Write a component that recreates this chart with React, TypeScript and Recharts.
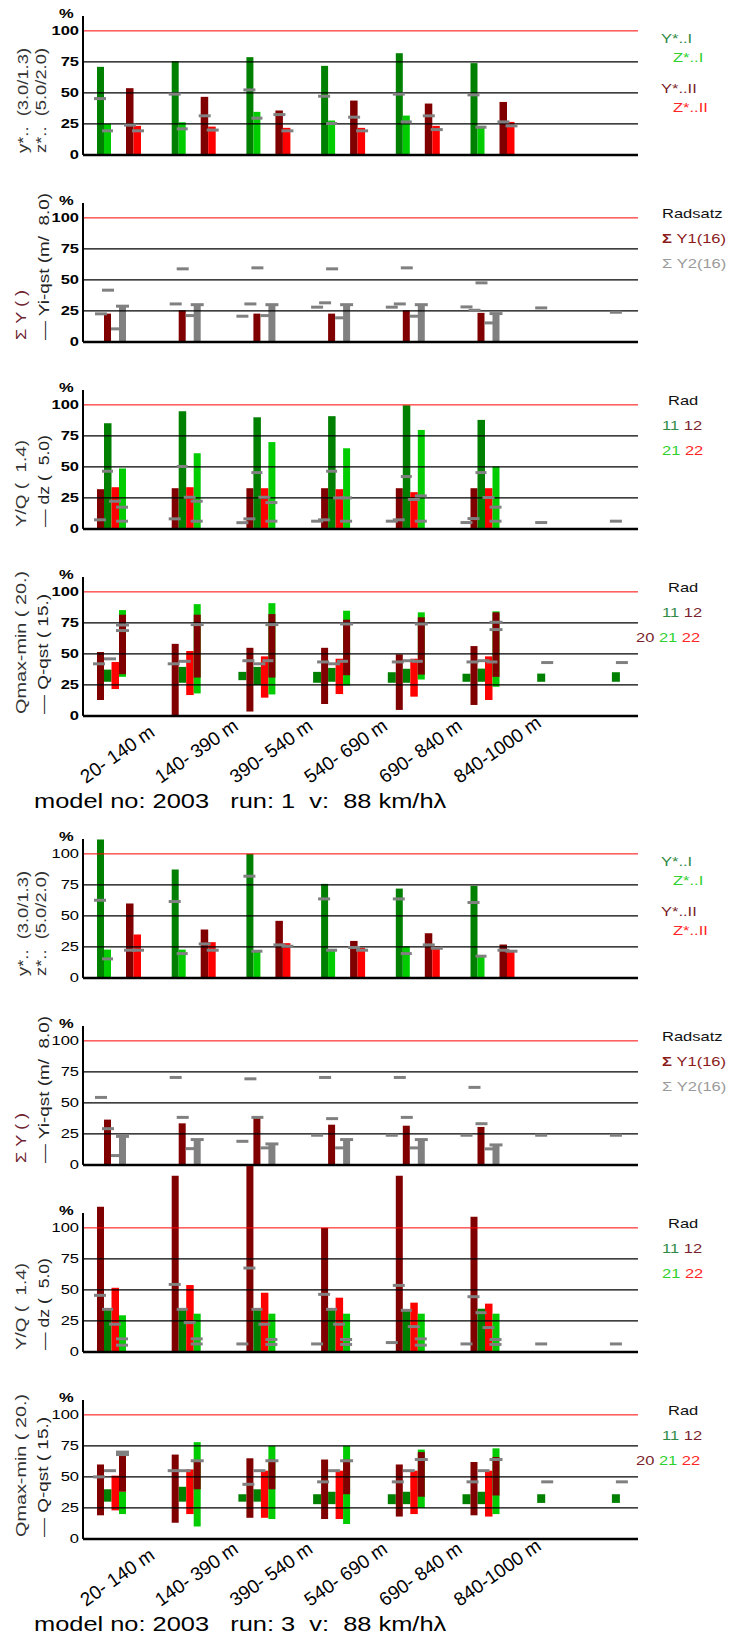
import React from 'react';
import { ComposedChart, XAxis, YAxis, ReferenceLine, ReferenceArea } from 'recharts';

type V = number | null;

// ---------- categories ----------
const SECTIONS = ['20- 140 m', '140- 390 m', '390- 540 m', '540- 690 m', '690- 840 m', '840-1000 m'];
const SLOT_COUNT = 8; // six track sections plus two spare slots
const Y_TICKS = [0, 25, 50, 75, 100];
const GRID_VALUES = [25, 50, 75];
const LIMIT = 100;

// ---------- run 1 : y*/z* ----------
const R1_Y_I: V[] = [71, 75.5, 78.8, 71.8, 82, 74];
const R1_Z_I: V[] = [25, 26.3, 34.7, 27.7, 31.7, 23.4];
const R1_Y_II: V[] = [53.8, 46.8, 35.8, 43.8, 41.4, 42.7];
const R1_Z_II: V[] = [23.4, 22.8, 21.8, 21.8, 23.4, 26.6];
const R1_Y_I_REF: V[] = [45.4, 49, 52.4, 47.3, 49, 48.4];
const R1_Z_I_REF: V[] = [19.4, 21, 29.6, 25.3, 26.6, 22.3];
const R1_Y_II_REF: V[] = [24, 31.5, 32.5, 30.4, 31.5, 26.6];
const R1_Z_II_REF: V[] = [19.4, 20, 19.4, 19.4, 20.4, 23.4];

// ---------- run 1 : sum Y ----------
const R1_SY1: V[] = [22.8, 25.5, 22.8, 22.8, 25.5, 23.4];
const R1_SY2: V[] = [28.8, 30, 30, 30, 30, 22.8];
const R1_SY2_MID: V[] = [10.5, 21.2, 21.2, 19.4, 20.7, 15.3];
const R1_QST_UPPER: V[] = [41.7, 58.9, 59.7, 58.9, 59.7, 47.6];
const R1_QST_LOWER: V[] = [22.6, 30.6, 30.6, 31.5, 30.6, 25.5];
const R1_QST_LOW: V[] = [null, null, 20.7, 28, 28, 28.2, 27.4, 23.9];

// ---------- run 1 : Y/Q ----------
const R1_YQ12: V[] = [32, 32.8, 32.8, 32.8, 32.8, 32.8];
const R1_YQ11: V[] = [85.2, 94.9, 90, 90.9, 99.7, 87.9];
const R1_YQ22: V[] = [33.6, 33.6, 32.8, 32, 29.6, 32.8];
const R1_YQ21: V[] = [48.7, 61, 70, 65, 79.8, 50.3];
const R1_DZ12: V[] = [7.3, 8.1, 8.1, 7.3, 7.3, 8.3];
const R1_DZ11: V[] = [46.5, 50.3, 45.4, 46.5, 42.2, 45.4];
const R1_DZ22: V[] = [22.3, 25.5, 25.5, 25, 23.7, 25.3];
const R1_DZ21: V[] = [17.5, 22.3, 21.2, 25, 26.6, 17.5];
const R1_DZ21_LOW: V[] = [6.2, 6.2, 6.2, 6.2, 6.2, 6.2];
const R1_DZ_LOW: V[] = [null, null, 5, 6.2, 6.2, 5.1, 5.1, 6.2];

// ---------- run 1 : Qmax-min ----------
const R1_Q11A_LO: V[] = [null, null, 28.8, 26.7, 26.7, 27.5, 27.5, 27.5];
const R1_Q11A_HI: V[] = [null, null, 35.5, 35.5, 35.2, 34, 34.1, 35.2];
const R1_Q12_LO: V[] = [12.8, 0, 3.5, 9.6, 4.8, 8.8];
const R1_Q12_HI: V[] = [51.5, 58.1, 54.9, 54.9, 49.6, 56.3];
const R1_Q11_LO: V[] = [27.5, 26.7, 24.8, 27.5, 26.7, 27.5];
const R1_Q11_HI: V[] = [37.3, 39.5, 39.5, 38.7, 38, 38.1];
const R1_Q22_LO: V[] = [21.6, 16.8, 14.7, 17.6, 15.5, 12.8];
const R1_Q22_HI: V[] = [43.5, 52.3, 48, 46.1, 46.1, 48];
const R1_Q21_LO: V[] = [31.5, 18.1, 17.3, 24.5, 29.3, 23.5];
const R1_Q21_HI: V[] = [85.3, 90.1, 90.9, 84.8, 83.5, 84.3];
const R1_Q20_LO: V[] = [33.6, 30.9, 30.9, 32.8, 33.3, 31.5];
const R1_Q20_HI: V[] = [81.6, 81.6, 82.1, 77.6, 79.5, 83.5];
const R1_QQ_1: V[] = [42, 42, 44.5, 43.5, 43.5, 43.5, 43, 43];
const R1_QQ_2: V[] = [46, 44, 42, 42, 44.5, 44.5];
const R1_QQ_3: V[] = [null, null, 44.5, 44, 44, 43.5];
const R1_QQ_TOP: V[] = [73.3, 73.6, 73.6, 74.1, 74.1, 75.5];
const R1_QQ_TOP2: V[] = [68.8, null, null, null, null, 69.6];

// ---------- run 3 : y*/z* ----------
const R3_Y_I: V[] = [111.6, 87.4, 100, 75.8, 72, 74.2];
const R3_Z_I: V[] = [22.8, 22.8, 22.3, 22.8, 25.5, 18];
const R3_Y_II: V[] = [60, 39, 46, 29.8, 36, 26.9];
const R3_Z_II: V[] = [35, 28.8, 28, 24.2, 25.5, 22.3];
const R3_Y_I_REF: V[] = [62.6, 61.6, 82, 63.7, 63.7, 60.8];
const R3_Z_I_REF: V[] = [15.3, 19.6, 21.5, 22.3, 19.6, 17.5];
const R3_Y_II_REF: V[] = [22.3, 27.4, 26.6, 24.5, 26.6, 22.3];
const R3_Z_II_REF: V[] = [22.3, 22.3, 25.5, 22.3, 23.9, 21.5];

// ---------- run 3 : sum Y ----------
const R3_SY1: V[] = [36.5, 33.5, 39.4, 32.4, 31.6, 30.6];
const R3_SY2: V[] = [23, 20.4, 16.9, 20.4, 20.4, 16.1];
const R3_SY2_MID: V[] = [7.5, 13.1, 13.7, 13.7, 13.7, 12.9];
const R3_QST_UPPER: V[] = [54.4, 70.5, 69.4, 70.5, 70.5, 62.5];
const R3_QST_LOWER: V[] = [29.2, 38.3, 38.3, 37.3, 38.3, 33.2];
const R3_QST_LOW: V[] = [null, null, 19, 23.9, 23.9, 23.9, 23.9, 23.9];

// ---------- run 3 : Y/Q ----------
const R3_YQ12: V[] = [117, 142, 150, 100, 142, 109];
const R3_YQ11: V[] = [34.3, 34.3, 34.3, 34.3, 34, 34.8];
const R3_YQ22: V[] = [51.7, 53.9, 47.7, 43.7, 39.7, 38.9];
const R3_YQ21: V[] = [29.5, 30.8, 30.8, 30.8, 30.8, 30.8];
const R3_DZ12: V[] = [45.6, 54.4, 67.6, 46.4, 53.6, 44.5];
const R3_DZ11: V[] = [34.3, 34.3, 34.3, 34.3, 33.5, 31.6];
const R3_DZ22: V[] = [22.3, 23.6, 22.3, 22.3, 20.4, 19.6];
const R3_DZ21: V[] = [10.5, 10.5, 10, 10, 10.5, 10];
const R3_DZ21_LOW: V[] = [5.4, 6.4, 6, 6, 5.4, 6];
const R3_DZ_LOW: V[] = [null, null, 6.4, 6.4, 7.5, 6.4, 6.4, 6.4];

// ---------- run 3 : Qmax-min ----------
const R3_Q11A_LO: V[] = [null, null, 30, 28, 28, 28, 29, 29];
const R3_Q11A_HI: V[] = [null, null, 36, 36, 36, 36, 36, 36];
const R3_Q12_LO: V[] = [19, 13, 17, 16, 18, 19];
const R3_Q12_HI: V[] = [60, 68, 65, 64, 60, 62];
const R3_Q11_LO: V[] = [30, 30, 30, 28, 28, 28];
const R3_Q11_HI: V[] = [40, 42, 40, 38, 38, 38];
const R3_Q22_LO: V[] = [23, 20, 17, 16, 20, 18];
const R3_Q22_HI: V[] = [51, 56, 55, 55, 55, 55];
const R3_Q21_LO: V[] = [20, 10, 16, 12, 25, 20];
const R3_Q21_HI: V[] = [38, 78, 75, 75, 72, 73];
const R3_Q20_LO: V[] = [38, 40, 40, 36, 34, 35];
const R3_Q20_HI: V[] = [70, 63, 64, 64, 70, 66];
const R3_QQ_1: V[] = [50, 55, 44, 46, 46, 46, 46, 46];
const R3_QQ_2: V[] = [55, 55, 55, 55, 55, 55];
const R3_QQ_3: V[] = [null, null, null, null, null, null];
const R3_QQ_TOP: V[] = [70, 63, 63, 63, 64, 64];
const R3_QQ_TOP2: V[] = [68, null, null, null, null, null];

// ---------- layout & style ----------
const PAGE_W = 732;
const PAGE_H = 1639;
const AXIS_X = 83;
const PLOT_W = 555;
const SLOT_PX = 74.7;
const X_MAX = PLOT_W / SLOT_PX;
const Y_MAX = 112;
const PLOT_H = Y_MAX * 1.24;
const RUN_SHIFT = 823;
const ZERO_LINES = [155, 342, 529, 716];
const FONT = '"Liberation Sans", Arial, sans-serif';
const SX = 1.27;

const C_DG = '#008000';
const C_LG = '#00cc00';
const C_DR = '#800000';
const C_R = '#ff0000';
const C_GRAY = '#808080';
const T_DG = '#2f8a46';
const T_LG = '#2ed12e';
const T_DR = '#7a1f2c';
const T_R = '#ff2626';

type Rect = { k: number; a: number; b: number; lo: number; hi: number; fill: string };
type Dash = { k: number; a: number; b: number; v: number };

const SLOT_DATA = Array.from({ length: SLOT_COUNT }, (_, slot) => ({ slot }));
const xAt = (k: number, px: number) => k + px / SLOT_PX;

const cols = (vals: V[], a: number, b: number, fill: string): Rect[] =>
  vals.flatMap((v, k) => (v == null ? [] : [{ k, a, b, lo: 0, hi: v, fill }]));
const spans = (lo: V[], hi: V[], a: number, b: number, fill: string): Rect[] =>
  lo.flatMap((l, k) => (l == null || hi[k] == null ? [] : [{ k, a, b, lo: l, hi: hi[k] as number, fill }]));
const dashes = (vals: V[], a: number, b: number): Dash[] =>
  vals.flatMap((v, k) => (v == null ? [] : [{ k, a, b, v }]));

type PanelMarks = { rects: Rect[]; marks: Dash[] };

const yzMarks = (yI: V[], zI: V[], yII: V[], zII: V[], yIr: V[], zIr: V[], yIIr: V[], zIIr: V[]): PanelMarks => ({
  rects: [...cols(yI, 14, 21, C_DG), ...cols(zI, 21, 28, C_LG), ...cols(yII, 43, 50.5, C_DR), ...cols(zII, 50.5, 58, C_R)],
  marks: [...dashes(yIr, 11, 23), ...dashes(zIr, 19, 30), ...dashes(yIIr, 41, 53), ...dashes(zIIr, 49, 61)],
});

const sumMarks = (y1: V[], y2: V[], y2mid: V[], upper: V[], upperAt: number, lower: V[], lowerAt: number, low: V[]): PanelMarks => ({
  rects: [...cols(y1, 21, 28, C_DR), ...cols(y2, 36, 43, C_GRAY)],
  marks: [
    ...dashes(low, 4, 16),
    ...dashes(upper, upperAt, upperAt + 12),
    ...dashes(lower, lowerAt, lowerAt + 12),
    ...dashes(y2, 33, 46),
    ...dashes(y2mid, 28, 41),
  ],
});

const yqMarks = (dr: V[], dg: V[], r: V[], lg: V[], mDr: V[], mDg: V[], mR: V[], mLg: V[], mLg2: V[], mLow: V[]): PanelMarks => ({
  rects: [...cols(dr, 14, 21, C_DR), ...cols(dg, 21, 28.5, C_DG), ...cols(r, 28.5, 36, C_R), ...cols(lg, 36, 43, C_LG)],
  marks: [
    ...dashes(mLow, 4, 16),
    ...dashes(mDr, 11, 23),
    ...dashes(mDg, 19, 30),
    ...dashes(mR, 26, 38),
    ...dashes(mLg, 33, 45),
    ...dashes(mLg2, 33, 45),
  ],
});

const qMarks = (
  aLo: V[], aHi: V[], bLo: V[], bHi: V[], cLo: V[], cHi: V[], dLo: V[], dHi: V[], eLo: V[], eHi: V[], fLo: V[], fHi: V[],
  m1: V[], m2: V[], m3: V[], t1: V[], t2: V[],
): PanelMarks => ({
  rects: [
    ...spans(aLo, aHi, 6, 14, C_DG),
    ...spans(cLo, cHi, 21, 28.5, C_DG),
    ...spans(bLo, bHi, 14, 21, C_DR),
    ...spans(dLo, dHi, 28.5, 36, C_R),
    ...spans(eLo, eHi, 36, 43, C_LG),
    ...spans(fLo, fHi, 36, 43, C_DR),
  ],
  marks: [...dashes(m1, 10, 22), ...dashes(m2, 21, 33), ...dashes(m3, 30, 41), ...dashes(t1, 33, 46), ...dashes(t2, 33, 46)],
});

// ---------- text helpers ----------
function StretchText(props: { x: number; y: number; size: number; color?: string; bold?: boolean; anchor?: 'start' | 'end' | 'middle'; children: React.ReactNode }) {
  const { x, y, size, color = '#000', bold = false, anchor = 'start', children } = props;
  return (
    <g transform={`translate(${x},${y}) scale(${SX},1)`}>
      <text x={0} y={0} fontSize={size} fill={color} fontWeight={bold ? 700 : 400} textAnchor={anchor} fontFamily={FONT} style={{ whiteSpace: 'pre' }}>
        {children}
      </text>
    </g>
  );
}

function SideTitle(props: { x: number; y: number; len: number; color: string; children: React.ReactNode }) {
  const { x, y, len, color, children } = props;
  return (
    <text x={x} y={y} transform={`rotate(-90, ${x}, ${y})`} fontSize={14} fill={color} fontFamily={FONT}
      textLength={len} lengthAdjust="spacingAndGlyphs" style={{ whiteSpace: 'pre' }}>
      {children}
    </text>
  );
}

function ValueTick(props: any) {
  const { x, y, payload, bold } = props;
  return <StretchText x={x} y={y + 4.5} size={13} bold={bold} anchor="end">{payload.value}</StretchText>;
}

function SectionTick(props: any) {
  const { x, y, payload } = props;
  const label = SECTIONS[payload.value];
  if (!label) return null;
  const sx = x + 3;
  const sy = y + 68;
  return (
    <text x={sx} y={sy} transform={`rotate(-35, ${sx}, ${sy})`} fontSize={19} fill="#000" fontFamily={FONT} style={{ whiteSpace: 'pre' }}>
      {label}
    </text>
  );
}

// ---------- one panel ----------
function Panel(props: { zero: number; data: PanelMarks; bold: boolean; sections?: boolean; extraTop?: number }) {
  const { zero, data, bold, sections = false, extraTop = 0 } = props;
  const mTop = 16 + extraTop;
  const axisH = sections ? 95 : 12;
  const height = mTop + PLOT_H + axisH;
  return (
    <div style={{ position: 'absolute', left: 0, top: zero - PLOT_H - mTop, width: PAGE_W, height }}>
      <ComposedChart width={PAGE_W} height={height} data={SLOT_DATA}
        margin={{ top: mTop, right: PAGE_W - AXIS_X - PLOT_W, bottom: 0, left: 0 }}>
        <XAxis dataKey="slot" type="number" domain={[0, X_MAX]} allowDataOverflow height={axisH}
          ticks={sections ? [0, 1, 2, 3, 4, 5] : []} interval={0}
          tick={sections ? (p: any) => <SectionTick {...p} /> : false}
          tickLine={false} tickSize={0} tickMargin={0}
          axisLine={{ stroke: '#000', strokeWidth: 2.5 }} />
        <YAxis type="number" domain={[0, Y_MAX]} allowDataOverflow ticks={Y_TICKS} interval={0} width={AXIS_X}
          tickLine={false} tickSize={0} tickMargin={4}
          tick={(p: any) => <ValueTick {...p} bold={bold} />}
          axisLine={{ stroke: '#000', strokeWidth: 2 }} />
        {GRID_VALUES.map((g) => (
          <ReferenceLine key={`g${g}`} y={g} stroke="#000" strokeWidth={1.1} />
        ))}
        <ReferenceLine y={LIMIT} stroke="#ff0000" strokeWidth={1} ifOverflow="visible" />
        {data.rects.map((r, i) => (
          <ReferenceArea key={`r${i}`} x1={xAt(r.k, r.a)} x2={xAt(r.k, r.b)} y1={r.lo} y2={r.hi}
            fill={r.fill} fillOpacity={1} stroke="none" ifOverflow="visible" />
        ))}
        {data.marks.map((m, i) => (
          <ReferenceLine key={`m${i}`} segment={[{ x: xAt(m.k, m.a), y: m.v }, { x: xAt(m.k, m.b), y: m.v }]}
            stroke={C_GRAY} strokeWidth={3} ifOverflow="visible" />
        ))}
      </ComposedChart>
    </div>
  );
}

// ---------- texts around the panels ----------
function SideTitles({ zero, kind }: { zero: number; kind: string }) {
  const y = zero - 2;
  if (kind === 'yz') return (<>
    <SideTitle x={28} y={y} len={105} color="#333">{'y*..  (3.0/1.3)'}</SideTitle>
    <SideTitle x={46} y={y} len={105} color="#333">{'z*..  (5.0/2.0)'}</SideTitle>
  </>);
  if (kind === 'sum') return (<>
    <SideTitle x={26} y={y} len={50} color="#6e2230">{'Σ Y ( )'}</SideTitle>
    <SideTitle x={49} y={y} len={147} color="#222">{'— Yi-qst (m/  8.0)'}</SideTitle>
  </>);
  if (kind === 'yq') return (<>
    <SideTitle x={26} y={y} len={87} color="#333">{'Y/Q (  1.4)'}</SideTitle>
    <SideTitle x={49} y={y} len={92} color="#222">{'— dz (  5.0)'}</SideTitle>
  </>);
  return (<>
    <SideTitle x={26} y={y} len={143} color="#333">{'Qmax-min ( 20.)'}</SideTitle>
    <SideTitle x={48} y={y} len={120} color="#222">{'— Q-qst ( 15.)'}</SideTitle>
  </>);
}

function Legend({ zero, kind }: { zero: number; kind: string }) {
  if (kind === 'yz') return (<>
    <StretchText x={661} y={zero - 112} size={13} color={T_DG}>Y*..I</StretchText>
    <StretchText x={673} y={zero - 93} size={13} color={T_LG}>Z*..I</StretchText>
    <StretchText x={661} y={zero - 62} size={13} color={T_DR}>Y*..II</StretchText>
    <StretchText x={673} y={zero - 43} size={13} color={T_R}>Z*..II</StretchText>
  </>);
  if (kind === 'sum') return (<>
    <StretchText x={662} y={zero - 124} size={13} color="#111">Radsatz</StretchText>
    <StretchText x={662} y={zero - 99} size={13} color="#8b1a1a"><tspan fontWeight={700}>Σ</tspan> Y1(16)</StretchText>
    <StretchText x={662} y={zero - 74} size={13} color="#9a9a9a">Σ Y2(16)</StretchText>
  </>);
  if (kind === 'yq') return (<>
    <StretchText x={668} y={zero - 124} size={13} color="#111">Rad</StretchText>
    <StretchText x={662} y={zero - 99} size={13} color={T_DG}>11 <tspan fill={T_DR}>12</tspan></StretchText>
    <StretchText x={662} y={zero - 74} size={13} color={T_LG}>21 <tspan fill={T_R}>22</tspan></StretchText>
  </>);
  return (<>
    <StretchText x={668} y={zero - 124} size={13} color="#111">Rad</StretchText>
    <StretchText x={662} y={zero - 99} size={13} color={T_DG}>11 <tspan fill={T_DR}>12</tspan></StretchText>
    <StretchText x={636} y={zero - 74} size={13} color={T_DR}>20 <tspan fill={T_LG}>21</tspan> <tspan fill={T_R}>22</tspan></StretchText>
  </>);
}

const KINDS = ['yz', 'sum', 'yq', 'q'];

const RUNS = [
  {
    run: 1,
    bold: true,
    panels: [
      yzMarks(R1_Y_I, R1_Z_I, R1_Y_II, R1_Z_II, R1_Y_I_REF, R1_Z_I_REF, R1_Y_II_REF, R1_Z_II_REF),
      sumMarks(R1_SY1, R1_SY2, R1_SY2_MID, R1_QST_UPPER, 19, R1_QST_LOWER, 12, R1_QST_LOW),
      yqMarks(R1_YQ12, R1_YQ11, R1_YQ22, R1_YQ21, R1_DZ12, R1_DZ11, R1_DZ22, R1_DZ21, R1_DZ21_LOW, R1_DZ_LOW),
      qMarks(R1_Q11A_LO, R1_Q11A_HI, R1_Q12_LO, R1_Q12_HI, R1_Q11_LO, R1_Q11_HI, R1_Q22_LO, R1_Q22_HI,
        R1_Q21_LO, R1_Q21_HI, R1_Q20_LO, R1_Q20_HI, R1_QQ_1, R1_QQ_2, R1_QQ_3, R1_QQ_TOP, R1_QQ_TOP2),
    ],
  },
  {
    run: 3,
    bold: false,
    panels: [
      yzMarks(R3_Y_I, R3_Z_I, R3_Y_II, R3_Z_II, R3_Y_I_REF, R3_Z_I_REF, R3_Y_II_REF, R3_Z_II_REF),
      sumMarks(R3_SY1, R3_SY2, R3_SY2_MID, R3_QST_UPPER, 12, R3_QST_LOWER, 19, R3_QST_LOW),
      yqMarks(R3_YQ12, R3_YQ11, R3_YQ22, R3_YQ21, R3_DZ12, R3_DZ11, R3_DZ22, R3_DZ21, R3_DZ21_LOW, R3_DZ_LOW),
      qMarks(R3_Q11A_LO, R3_Q11A_HI, R3_Q12_LO, R3_Q12_HI, R3_Q11_LO, R3_Q11_HI, R3_Q22_LO, R3_Q22_HI,
        R3_Q21_LO, R3_Q21_HI, R3_Q20_LO, R3_Q20_HI, R3_QQ_1, R3_QQ_2, R3_QQ_3, R3_QQ_TOP, R3_QQ_TOP2),
    ],
  },
];

export default function App() {
  return (
    <div style={{ position: 'absolute', left: 0, top: 0, width: PAGE_W, height: PAGE_H, background: '#fff', overflow: 'hidden' }}>
      {RUNS.map((r, ri) =>
        r.panels.map((p, pi) => (
          <Panel key={`${ri}-${pi}`} zero={ZERO_LINES[pi] + ri * RUN_SHIFT} data={p} bold={r.bold}
            sections={pi === 3} extraTop={ri === 1 && pi === 2 ? 60 : 0} />
        )),
      )}
      <svg width={PAGE_W} height={PAGE_H} style={{ position: 'absolute', left: 0, top: 0, pointerEvents: 'none' }}>
        {RUNS.map((r, ri) => (
          <g key={ri}>
            {ZERO_LINES.map((z, pi) => {
              const zero = z + ri * RUN_SHIFT;
              return (
                <g key={pi}>
                  <StretchText x={59} y={zero - 137} size={13} bold>%</StretchText>
                  <SideTitles zero={zero} kind={KINDS[pi]} />
                  <Legend zero={zero} kind={KINDS[pi]} />
                </g>
              );
            })}
            <StretchText x={34} y={808 + ri * RUN_SHIFT} size={20}>
              {`model no: 2003   run: ${r.run}  v:  88 km/hλ`}
            </StretchText>
          </g>
        ))}
      </svg>
    </div>
  );
}
